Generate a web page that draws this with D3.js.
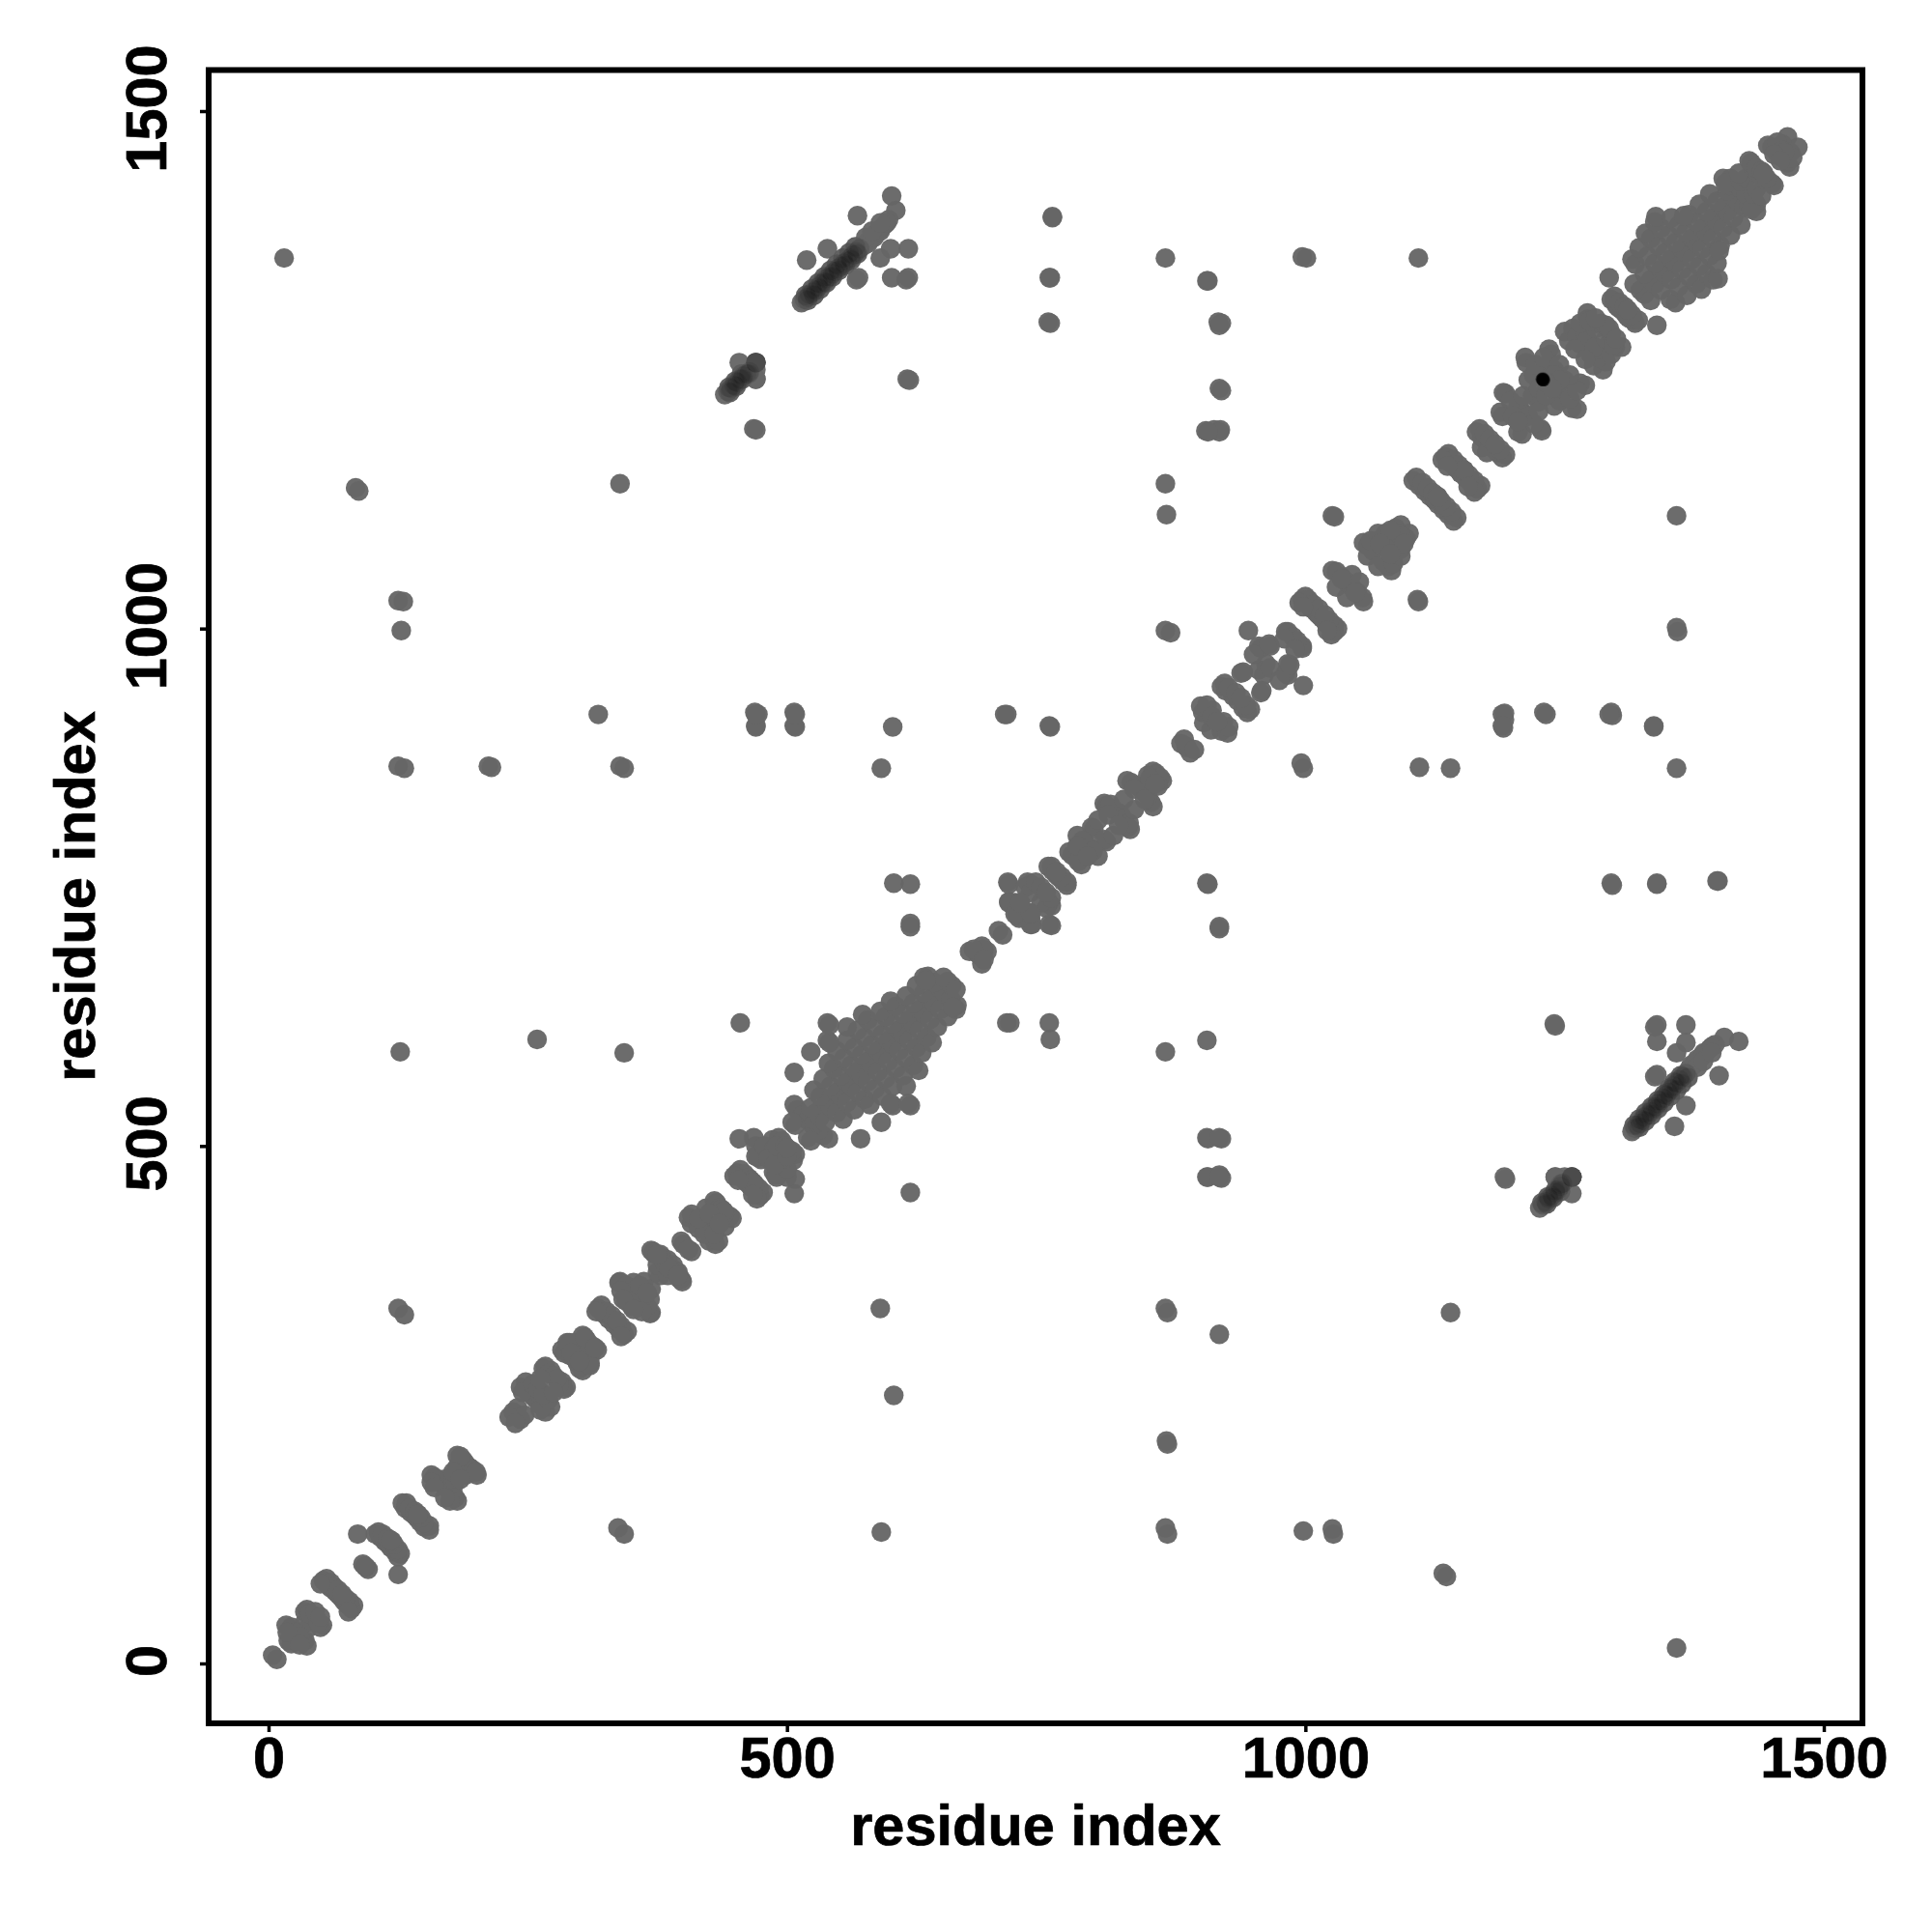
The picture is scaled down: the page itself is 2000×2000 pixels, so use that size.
<!DOCTYPE html>
<html><head><meta charset="utf-8">
<script src="https://cdn.jsdelivr.net/npm/d3@7/dist/d3.min.js"></script>
<style>html,body{margin:0;background:#fff}svg{display:block}text{font-family:"Liberation Sans",Arial,sans-serif;font-weight:700;fill:#000;stroke:#000;stroke-width:.7px}</style>
</head><body><svg id="c" width="2000" height="2000"></svg>
<script>
const xTicks=[0,500,1000,1500];
const yTicks=[0,500,1000,1500];
const axisTitle="residue index";
// residue pairs (i<j) read from the upper-left half; the map is symmetric
const longRangeContacts=[[15,1358],[84,1136],[87,1133],[125,1027],[130,1026],[128,998],[125,867],[131,865],[127,591],[125,343],[131,337],[212,867],[215,866],[259,603],[318,917],[339,1140],[339,867],[343,865],[343,590],[455,619],[468,1193],[470,1192],[469,919],[472,917],[470,906],[507,919],[507,906],[523,591],[507,571],[539,619],[539,602],[541,600],[541,617],[519,1356],[539,1367],[568,1399],[601,1418],[605,1404],[617,1367],[600,1367],[590,1358],[569,1339],[567,1337],[601,1339],[617,1339],[615,1337],[616,1241],[470,1241],[454,1257],[710,917],[753,906],[712,619],[715,619],[753,619],[754,603],[756,1398],[753,1339],[752,1296],[865,1358],[865,1140],[866,1110],[865,998],[870,996],[865,591],[905,1336],[916,1296],[919,1295],[917,1232],[904,1191],[918,1192],[912,1192],[905,602],[905,508],[917,508],[905,470],[917,470],[905,754],[917,712],[997,1359],[1001,1358],[1109,1358],[1026,1109],[1028,1108],[1190,917],[1190,906],[1230,919],[1293,917],[1336,906],[1295,754],[1339,754],[1397,756],[1240,618],[1293,1339]];
const diagonalA=[[4,8],[17,37],[19,22],[37,52],[34,38],[22,35],[26,30],[44,46],[35,50],[40,48],[18,30],[45,50],[53,80],[57,76],[60,73],[64,70],[66,68],[56,82],[60,78],[63,74],[67,71],[50,77],[86,125],[91,96],[94,93],[103,125],[108,122],[112,118],[115,116],[106,127],[110,125],[115,121],[119,118],[129,155],[132,150],[137,146],[141,143],[133,155],[136,150],[141,147],[144,144],[157,182],[182,201],[165,175],[170,178],[176,180],[185,195],[190,193],[160,180],[188,196],[157,175],[160,170],[182,190],[185,200],[178,185],[236,243],[238,241],[240,247],[232,238],[243,267],[267,287],[250,262],[255,258],[272,283],[260,262],[248,272],[245,262],[255,270],[260,265],[265,285],[270,280],[275,278],[262,275],[283,303],[303,317],[290,298],[294,296],[307,312],[290,310],[285,300],[295,310],[300,308],[288,310],[292,300],[305,315],[318,343],[323,338],[328,333],[321,346],[326,340],[331,336],[316,340]];
const diagonalB=[[339,369],[338,368],[345,350],[352,368],[362,369],[348,360],[354,362],[345,365],[350,355],[358,365],[340,360],[342,352],[371,398],[372,396],[380,392],[385,390],[375,378],[369,399],[378,395],[375,385],[382,386],[375,395],[398,408],[400,405],[405,431],[408,425],[412,428],[418,422],[420,430],[415,420],[422,440],[430,447],[432,445],[435,440],[437,439],[408,434],[415,430],[425,435],[452,474],[456,470],[460,466],[462,464],[455,477],[459,473],[463,469],[465,467],[449,471],[453,467],[454,507],[468,508],[486,506],[492,508],[472,489],[475,487],[470,500],[480,495],[485,490],[495,502],[470,490],[478,500],[488,498],[495,505],[482,488],[490,500],[498,500],[507,540],[510,535],[515,530],[520,525],[508,520],[505,523]];
const diagonalC=[[528,532],[523,537],[538,542],[532,548],[526,554],[548,552],[542,558],[535,565],[558,562],[552,568],[545,575],[540,580],[568,572],[562,578],[555,585],[548,592],[578,582],[572,588],[565,595],[558,602],[588,592],[582,598],[575,605],[568,612],[558,615],[598,602],[592,608],[585,615],[578,622],[573,627],[608,612],[602,618],[595,625],[590,630],[618,622],[612,628],[605,635],[600,640],[628,632],[622,638],[615,645],[638,642],[632,648],[625,655],[648,652],[642,658],[636,664],[632,663],[655,659],[651,663],[634,660],[676,688],[684,686],[688,693],[690,689],[680,690]];
const diagonalD=[[704,708],[713,755],[714,753],[732,755],[735,753],[714,736],[722,724],[720,735],[725,735],[730,750],[735,745],[740,755],[745,750],[735,714],[724,720],[735,725],[752,770],[760,762],[756,766],[755,770],[765,760],[880,889],[885,886],[883,893],[902,909],[901,919],[899,925],[910,921],[905,926],[910,915],[919,944],[923,940],[930,935],[922,947],[926,943],[933,938],[938,957],[955,983],[966,983],[957,981],[981,997],[983,997],[955,960],[962,966],[988,992],[940,958],[950,975],[965,985],[980,990],[945,998],[997,1028],[1000,1025],[1005,1020],[1010,1016],[1012,1014],[1000,1031],[1003,1028],[1008,1023],[1013,1019],[994,1025],[998,1021]];
const diagonalD2=[[772,784],[775,781],[794,808],[796,806],[788,792],[780,800],[785,795],[780,790],[800,815],[806,831],[808,829],[815,825],[820,822],[812,830],[810,820],[825,835],[828,853],[832,851],[838,848],[853,862],[856,860],[842,845],[835,845],[848,858],[850,855]];
const diagonalE=[[1026,1056],[1056,1083],[1077,1092],[1092,1100],[1087,1097],[1030,1040],[1035,1050],[1040,1045],[1045,1052],[1030,1055],[1035,1048],[1060,1080],[1065,1075],[1070,1085],[1075,1085],[1080,1085],[1085,1090],[1090,1092],[1060,1070],[1063,1085],[1070,1092],[1082,1095],[1072,1082],[1104,1143],[1110,1138],[1115,1133],[1120,1128],[1124,1125],[1107,1146],[1113,1141],[1118,1136],[1123,1131],[1127,1128],[1135,1166],[1140,1160],[1145,1155],[1150,1150],[1138,1169],[1143,1163],[1148,1158],[1153,1153],[1132,1163],[1137,1157],[1165,1190],[1170,1185],[1175,1180],[1170,1175],[1168,1193],[1173,1188],[1178,1183]];
const diagonalF=[[1191,1228],[1193,1227],[1188,1209],[1207,1212],[1219,1225],[1228,1242],[1213,1257],[1212,1262],[1235,1270],[1237,1265],[1240,1250],[1230,1250],[1220,1245],[1205,1215],[1198,1220],[1190,1205],[1200,1205],[1210,1225],[1215,1240],[1222,1255],[1230,1262],[1245,1255],[1240,1245],[1225,1232],[1232,1238],[1250,1287],[1272,1299],[1277,1294],[1254,1278],[1258,1290],[1265,1275],[1262,1282],[1270,1285],[1272,1279],[1265,1295],[1280,1290],[1285,1295],[1290,1293],[1260,1270],[1272,1305],[1274,1297],[1280,1300],[1295,1318],[1300,1312],[1305,1308],[1298,1316],[1302,1310],[1298,1321],[1303,1315],[1308,1311]];
const diagonalG=[[1323,1327],[1317,1333],[1333,1337],[1327,1343],[1318,1352],[1315,1357],[1343,1347],[1337,1353],[1330,1360],[1322,1368],[1353,1357],[1347,1363],[1340,1370],[1333,1377],[1328,1382],[1363,1367],[1357,1373],[1350,1380],[1343,1387],[1337,1393],[1338,1398],[1373,1377],[1367,1383],[1360,1390],[1353,1397],[1383,1387],[1377,1393],[1370,1400],[1365,1399],[1393,1397],[1387,1403],[1380,1410],[1403,1407],[1397,1413],[1390,1420],[1413,1417],[1407,1423],[1403,1435],[1408,1428],[1415,1430],[1420,1425],[1410,1435],[1405,1430],[1420,1432],[1425,1435],[1418,1440],[1428,1452],[1432,1445],[1436,1440],[1430,1450],[1435,1445],[1440,1442],[1446,1467],[1450,1465],[1455,1460],[1465,1475],[1460,1468],[1455,1470],[1460,1462],[1452,1458]];
// parallel strands, drawn a second time as a dark overlay where they stack up
const strandLongEnds=[[574,1370],[578,1374],[582,1378],[586,1382],[590,1386],[594,1390],[598,1395],[514,1315],[516,1316],[578,1372],[584,1378],[590,1384],[596,1392],[576,1378],[582,1384],[590,1392]];
const strandLongCore=[[517,1318],[520,1320],[522,1323],[525,1325],[528,1327],[530,1330],[533,1333],[536,1335],[538,1338],[541,1340],[544,1343],[546,1345],[549,1348],[552,1350],[555,1353],[558,1355],[561,1358],[564,1361],[567,1364],[570,1367],[520,1317],[526,1322],[532,1328],[538,1334],[544,1340],[550,1346],[556,1351],[562,1356],[568,1362],[518,1322],[524,1328],[530,1334],[536,1340],[542,1346],[548,1352],[554,1358],[560,1363],[566,1369]];
const strandShortEnds=[[440,1226],[467,1250],[470,1250],[470,1241]];
const strandShortCore=[[443,1229],[446,1232],[449,1235],[452,1238],[455,1241],[458,1244],[461,1246],[464,1248],[445,1228],[451,1234],[457,1241],[463,1246],[444,1233],[450,1239],[456,1246],[470,1257],[470,1257],[470,1257]];
const stackedSpots=[[1229,1240],[1229,1241],[1230,1240],[1228,1241],[1229,1242],[1230,1241],[1229,1240],[1229,1241],[1230,1240],[1228,1241],[1229,1240],[1229,1241]];

const svg=d3.select("#c");
const x=d3.scaleLinear().domain([0,1500]).range([278,1888]);
const y=d3.scaleLinear().domain([0,1500]).range([1722,115]);
const mirrored=p=>p.flatMap(([i,j])=>[[i,j],[j,i]]);
const base=mirrored([].concat(diagonalA,diagonalB,diagonalC,diagonalD2,diagonalD,diagonalE,diagonalF,diagonalG,longRangeContacts,strandLongEnds,strandLongCore,strandShortEnds,strandShortCore));
const overlay=mirrored([].concat(strandLongCore,strandShortCore));
const R=10.2;
svg.append("g").selectAll("circle").data(base).join("circle")
  .attr("cx",d=>x(d[0])).attr("cy",d=>y(d[1])).attr("r",R).attr("fill","#666").attr("fill-opacity",.96);
svg.append("g").selectAll("circle").data(overlay).join("circle")
  .attr("cx",d=>x(d[0])).attr("cy",d=>y(d[1])).attr("r",R).attr("fill","#000").attr("fill-opacity",.09);
svg.append("g").selectAll("circle").data(stackedSpots).join("circle")
  .attr("cx",d=>x(d[0])).attr("cy",d=>y(d[1])).attr("r",6.5).attr("fill","#000").attr("fill-opacity",.3);

svg.append("rect").attr("x",216).attr("y",72.5).attr("width",1712).attr("height",1711.5)
  .attr("fill","none").attr("stroke","#000").attr("stroke-width",6);

const gx=svg.append("g").attr("transform","translate(0,1784)")
  .call(d3.axisBottom(x).tickValues(xTicks).tickSize(9).tickSizeOuter(0).tickPadding(0).tickFormat(d3.format("d")));
gx.select(".domain").remove();
gx.selectAll("line").attr("stroke","#000").attr("stroke-width",3.5);
gx.selectAll("text").attr("font-size",59.5).attr("y",56).attr("dy",0).style("fill","#000");

const gy=svg.append("g").attr("transform","translate(216,0)")
  .call(d3.axisLeft(y).tickValues(yTicks).tickSize(9).tickSizeOuter(0).tickFormat(d3.format("d")));
gy.select(".domain").remove();
gy.selectAll("line").attr("stroke","#000").attr("stroke-width",3.5);
gy.selectAll("text").attr("font-size",59.5).attr("x",0).attr("y",0).attr("dy",0)
  .attr("text-anchor","middle").attr("transform","translate(-44,-3) rotate(-90)").style("fill","#000");

svg.append("text").attr("x",1072).attr("y",1910).attr("text-anchor","middle").attr("font-size",59.5).text(axisTitle);
svg.append("text").attr("transform","translate(98,928) rotate(-90)").attr("text-anchor","middle").attr("font-size",59.5).text(axisTitle);
</script></body></html>
